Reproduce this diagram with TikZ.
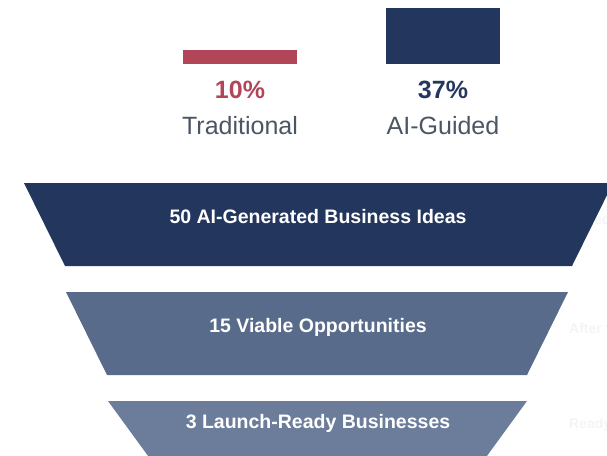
\documentclass[tikz,border=0pt]{standalone}
\usepackage{fontspec}
\setmainfont{Liberation Sans}

\definecolor{vermelho}{RGB}{176,70,88}
\definecolor{azul}{RGB}{35,54,94}
\definecolor{azulmedio}{RGB}{89,107,138}
\definecolor{azulclaro}{RGB}{107,125,154}
\definecolor{cinza}{RGB}{75,85,99}
\definecolor{quasebranco}{RGB}{243,244,247}

\begin{document}
\begin{tikzpicture}[x=1pt, y=-1pt,
    etapa/.style={text=white, font=\bfseries\fontsize{19.5}{23}\selectfont, inner sep=0pt},
    valor/.style={font=\bfseries\fontsize{25}{30}\selectfont, inner sep=0pt},
    rotulo/.style={text=cinza, font=\fontsize{25}{30}\selectfont, inner sep=0pt},
    nota/.style={text=quasebranco, font=\bfseries\fontsize{14}{17}\selectfont, inner sep=0pt, anchor=west}]

    % Margens da figura
    \clip (0,0) rectangle (607,455);

    % Barras de comparação
    \fill[vermelho] (183,50) rectangle (297,64);
    \fill[azul] (386,8) rectangle (500,64);
    \node[valor, text=vermelho] (T) at (240,90) {10\%};
    \node[rotulo] (TL) at (240,126) {Traditional};
    \node[valor, text=azul] (A) at (443,90) {37\%};
    \node[rotulo] (AL) at (443,126) {AI-Guided};

    % Notas laterais (quase invisíveis)
    \node[nota] (N1) at (594,219) {ed};
    \node[nota] (N2) at (569,328) {After f};
    \node[nota] (N3) at (569,425) {Ready};

    % Funil
    \def\cx{318}
    \fill[azul] (24,183) -- (613,183) -- (572,266) -- (65,266) -- cycle;
    \fill[azulmedio] (66,292) -- (568,292) -- (527,375) -- (107,375) -- cycle;
    \fill[azulclaro] (108,401) -- (527,401) -- (484,460) -- (151,460) -- cycle;

    % Etapas
    \node[etapa] (E1) at (\cx,217) {50 AI-Generated Business Ideas};
    \node[etapa] (E2) at (\cx,327) {15 Viable Opportunities};
    \node[etapa] (E3) at (\cx,423) {3 Launch-Ready Businesses};

\end{tikzpicture}
\end{document}
